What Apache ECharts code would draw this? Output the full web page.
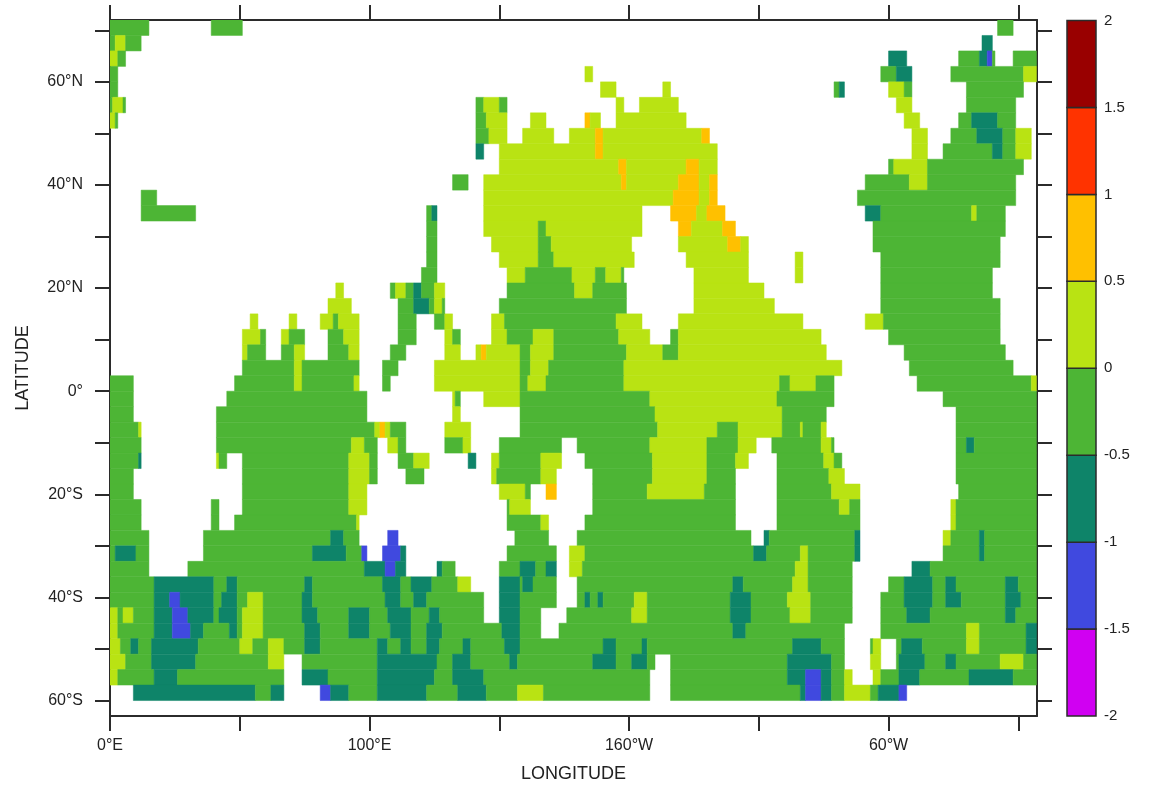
<!DOCTYPE html>
<html>
<head>
<meta charset="utf-8">
<style>html,body{margin:0;padding:0;background:#fff}#c{width:1150px;height:785px}</style>
<script src="https://cdn.jsdelivr.net/npm/echarts@6/dist/echarts.min.js"></script>
</head>
<body>
<div id="c"></div>
<script>
// Colour classes: band midpoints of the field
const classValues = {B:-1.25, T:-0.75, G:-0.25, Y:0.25, O:0.75};
const levels = [-2,-1.5,-1,-0.5,0,0.5,1,1.5,2];
const bandColors = ['#d000f2','#4049df','#0e8469','#4db535','#b9e313','#ffc000','#ff3300','#990000'];
const lonTicks = [0,50,100,150,200,250,300,350];
const lonLabels = {0:'0°E',100:'100°E',200:'160°W',300:'60°W'};
const latTicks = [-60,-50,-40,-30,-20,-10,0,10,20,30,40,50,60,70];
const latLabels = {60:'60°N',40:'40°N',20:'20°N',0:'0°','-20':'20°S','-40':'40°S','-60':'60°S'};
// One entry per 3-degree latitude row, from 72N southwards: lonStart-lonEnd + class
const rows = [
"0-15G 39-51G 342-348G",
"0-2G 2-6Y 6-12G 336-340T",
"0-3Y 3-6G 300-307T 327-335G 335-338T 338-340B 340-341G 348-357G",
"0-3G 183-186Y 297-303G 303-309T 324-352G 352-357Y",
"0-3G 189-195Y 213-216Y 279-281G 281-283T 300-306Y 306-309G 330-352G",
"0-1G 1-5Y 5-6G 141-144G 144-150Y 150-153G 195-198Y 204-219Y 303-309Y 330-349G",
"0-2Y 2-3G 141-145G 145-153Y 162-168Y 183-185O 185-189Y 195-222Y 306-312Y 327-332G 332-342T 342-349G",
"141-146G 146-153Y 159-171Y 177-187Y 187-190O 190-228Y 228-231O 309-315Y 324-334G 334-344T 344-349G 349-355Y",
"141-144T 150-187Y 187-190O 190-234Y 309-315Y 321-340G 340-344T 344-349G 349-355Y",
"150-196Y 196-199O 199-222Y 222-227O 227-234Y 300-302G 302-315Y 315-352G",
"132-138G 144-197Y 197-199O 199-219Y 219-227O 227-231Y 231-234O 291-308G 308-315Y 315-349G",
"12-18G 144-217Y 217-227O 227-231Y 231-234O 288-349G",
"12-33G 122-124G 124-126T 144-205Y 216-226O 226-230Y 230-237O 291-297T 297-332G 332-334Y 334-345G",
"122-126G 144-165Y 165-168G 168-205Y 219-224O 224-236Y 236-241O 294-345G",
"122-126G 147-165Y 165-170G 170-201Y 219-238Y 238-243O 243-246Y 294-343G",
"122-126G 150-165Y 165-171G 171-202Y 222-246Y 264-267Y 297-343G",
"120-126G 153-160Y 160-178G 178-187Y 187-191G 191-197Y 197-198G 225-246Y 264-267Y 297-340G",
"87-90Y 108-110G 110-114Y 114-117G 117-120T 120-125G 125-129Y 153-179G 179-186Y 186-199G 225-252Y 297-340G",
"84-93Y 111-117G 117-123T 123-125G 125-128Y 128-129G 150-199G 225-256Y 297-343G",
"54-57Y 69-72Y 81-86Y 86-88G 88-96Y 111-118G 125-129G 129-132Y 147-152Y 152-195G 195-205Y 219-267Y 291-298Y 298-343G",
"51-58Y 58-60G 66-69Y 69-75G 84-90G 90-96Y 111-118G 129-132Y 132-135G 147-153Y 153-163G 163-171Y 171-196G 196-208Y 216-219G 219-274Y 300-343G",
"51-53Y 53-60G 66-71G 71-75Y 84-92G 92-96Y 108-114G 129-135Y 141-143Y 143-145O 145-158Y 158-162G 162-171Y 171-199G 199-213Y 213-219G 219-276Y 306-345G",
"51-71G 71-74Y 74-96G 105-111G 125-158Y 158-162G 162-169Y 169-198G 198-282Y 308-348G",
"0-9G 48-71G 71-74Y 74-94G 94-96Y 105-108G 125-158Y 158-161G 161-168Y 168-198G 198-258Y 258-262G 262-272Y 272-279G 311-355G 355-357Y",
"0-9G 45-99G 132-133Y 133-135G 144-158Y 158-208G 208-257Y 257-279G 321-357G",
"0-9G 41-99G 132-135Y 158-210G 210-259Y 259-276G 326-357G",
"0-11G 11-12Y 41-102G 102-104Y 104-106O 106-108Y 108-114G 129-139Y 158-211G 211-234Y 234-242G 242-259Y 259-266G 266-267Y 267-274G 274-276Y 326-357G",
"0-12G 41-93G 93-98Y 98-103G 107-111Y 111-114G 129-136G 136-139Y 150-174G 180-208G 208-230Y 230-242G 242-249Y 255-274G 274-278Y 278-279G 326-330G 330-333T 333-357G",
"0-11G 11-12T 41-42Y 42-45G 51-92G 92-100Y 100-103G 111-117G 117-123Y 138-141T 147-150Y 150-166G 166-174Y 183-209G 209-230Y 230-241G 241-246Y 257-275G 275-279Y 279-282G 326-357G",
"0-9G 51-92G 92-100Y 100-103G 114-121G 147-149Y 149-166G 166-172Y 186-209G 209-230Y 230-241G 257-277G 277-283Y 326-357G",
"0-9G 51-92G 92-99Y 150-160Y 160-162G 168-172O 186-207G 207-229Y 229-241G 257-278G 278-289Y 327-357G",
"0-12G 39-42G 51-92G 92-99Y 153-154G 154-162Y 186-241G 257-281G 281-285Y 285-289G 324-326Y 326-357G",
"0-12G 39-42G 48-95G 95-96Y 153-166G 166-169Y 183-241G 257-289G 324-326Y 326-357G",
"0-15G 36-85G 85-90T 90-96G 107-111B 156-169G 180-247G 252-254T 254-287G 287-289T 321-324Y 324-335G 335-337T 337-357G",
"0-2G 2-10T 10-15G 36-78G 78-91T 91-97G 97-99B 105-112B 112-114T 153-172G 177-183Y 183-248G 248-253T 253-266G 266-269Y 269-287G 287-289T 321-335G 335-337T 337-357G",
"0-15G 30-98G 98-106T 106-110B 110-114T 126-128T 128-133G 150-158G 158-164T 164-168G 168-172T 177-182Y 182-264G 264-269Y 269-286G 309-316T 316-357G",
"0-17G 17-40T 40-45G 45-49T 49-75G 75-78T 78-105G 105-112T 112-116G 116-124T 124-134G 134-139Y 150-158T 158-159G 159-163T 163-172G 180-240G 240-244T 244-263G 263-269Y 269-286G 300-306G 306-317T 317-322G 322-326T 326-345G 345-350T 350-357G",
"0-17G 17-23T 23-27B 27-40T 40-43G 43-49T 49-53G 53-59Y 59-74G 74-78T 78-106G 106-112T 112-117G 117-122T 122-144G 150-158T 158-172G 180-183G 183-185T 185-188G 188-190T 190-202G 202-207Y 207-239G 239-247T 247-261G 261-270Y 270-286G 297-306G 306-317T 317-322G 322-328T 328-345G 345-351T 351-357G",
"0-3Y 3-5G 5-9Y 9-17G 17-24T 24-30B 30-40T 40-42G 42-49T 49-51G 51-59Y 59-74G 74-80T 80-92G 92-100T 100-107G 107-116T 116-123G 123-127T 127-144G 150-158T 158-166G 176-201G 201-207Y 207-239G 239-247T 247-262G 262-270Y 270-286G 297-307G 307-316T 316-345G 345-349T 349-357G",
"0-3Y 3-17G 17-24T 24-31B 31-36T 36-46G 46-49T 49-51G 51-59Y 59-75G 75-81T 81-92G 92-100T 100-108G 108-116T 116-122G 122-128T 128-151G 151-158T 158-166G 173-240G 240-245T 245-283G 297-330G 330-335Y 335-353G 353-357T",
"0-4Y 4-8G 8-11T 11-16G 16-34T 34-50G 50-55Y 55-61G 61-67Y 67-75G 75-81T 81-103G 103-107T 107-112G 112-116T 116-122G 122-127T 127-136G 136-139T 139-152G 152-158T 158-190G 190-195T 195-205G 205-207T 207-263G 263-274T 274-283G 293-294G 294-297Y 303-305G 305-313T 313-330G 330-335Y 335-353G 353-357T",
"0-6Y 6-16G 16-33T 33-61G 61-67Y 74-103G 103-126T 126-132G 132-139T 139-154G 154-157T 157-186G 186-195T 195-201G 201-207T 207-210G 216-261G 261-278T 278-283G 293-297Y 303-304G 304-314T 314-322G 322-326T 326-343G 343-352Y 352-357G",
"0-3Y 3-17G 17-26T 26-67G 74-84T 84-103G 103-125T 125-132G 132-144T 144-208G 216-261G 261-268T 268-274B 274-278T 278-283G 283-286Y 294-297Y 297-304G 304-312T 312-331G 331-348T 348-357G",
"9-56T 56-62G 62-67T 81-85B 85-92T 92-103G 103-122T 122-134G 134-145T 145-157G 157-167Y 167-208G 216-266G 266-268T 268-274B 274-278T 278-283G 283-293Y 293-296G 296-304T 304-307B"
];

const cells = [];
rows.forEach((row, i) => {
  const top = 72 - 3 * i;
  row.split(' ').forEach(run => {
    const m = run.match(/(\d+)-(\d+)([A-Z])/);
    cells.push([+m[1], +m[2], top - 3, top, classValues[m[3]]]);
  });
});
const barCells = bandColors.map((c, i) => [0, 1, levels[i], levels[i + 1], (levels[i] + levels[i + 1]) / 2]);
function colorOf(v) {
  for (let i = 0; i < bandColors.length; i++) if (v >= levels[i] && v < levels[i + 1]) return bandColors[i];
  return '#fff';
}
function cellItem(stroke, lw) {
  return function (params, api) {
    const a = api.coord([api.value(0), api.value(3)]);
    const b = api.coord([api.value(1), api.value(2)]);
    const fill = colorOf(api.value(4));
    return {type: 'rect', shape: {x: a[0], y: a[1], width: b[0] - a[0], height: b[1] - a[1]},
      style: {fill: fill, stroke: stroke || fill, lineWidth: lw}};
  };
}
const ink = '#2b2b2b';
const font = 'Liberation Sans';
const line = {show: true, onZero: false, lineStyle: {color: ink, width: 2}};
const tick = vals => ({show: true, length: 15, inside: false, customValues: vals, lineStyle: {color: ink, width: 2}});
const chart = echarts.init(document.getElementById('c'), null, {renderer: 'canvas'});
chart.setOption({
  animation: false,
  backgroundColor: '#fff',
  grid: [
    {left: 110, top: 20, width: 927, height: 696, outerBoundsMode: 'none'},
    {left: 1067, top: 20.5, width: 29, height: 695.5, outerBoundsMode: 'none'}
  ],
  xAxis: [
    {type: 'value', gridIndex: 0, min: 0, max: 357.2, position: 'bottom', splitLine: {show: false},
     axisLine: line, axisTick: tick(lonTicks),
     axisLabel: {customValues: Object.keys(lonLabels).map(Number), margin: 22, fontFamily: font, fontSize: 16, color: '#222',
       formatter: v => lonLabels[v]},
     name: 'LONGITUDE', nameLocation: 'middle', nameGap: 49, nameTextStyle: {fontFamily: font, fontSize: 18, color: '#222'}},
    {type: 'value', gridIndex: 0, min: 0, max: 357.2, position: 'top', splitLine: {show: false},
     axisLine: line, axisTick: tick(lonTicks), axisLabel: {show: false}},
    {type: 'value', gridIndex: 1, min: 0, max: 1, show: false}
  ],
  yAxis: [
    {type: 'value', gridIndex: 0, min: -63, max: 72, position: 'left', splitLine: {show: false},
     axisLine: line, axisTick: tick(latTicks),
     axisLabel: {customValues: Object.keys(latLabels).map(Number), margin: 27, fontFamily: font, fontSize: 16, color: '#222',
       formatter: v => latLabels[v]},
     name: 'LATITUDE', nameLocation: 'middle', nameGap: 78, nameRotate: 90, nameTextStyle: {fontFamily: font, fontSize: 18, color: '#222'}},
    {type: 'value', gridIndex: 0, min: -63, max: 72, position: 'right', splitLine: {show: false},
     axisLine: line, axisTick: tick(latTicks), axisLabel: {show: false}},
    {type: 'value', gridIndex: 1, min: -2, max: 2, interval: 0.5, position: 'right', splitLine: {show: false},
     axisLine: {show: false}, axisTick: {show: false},
     axisLabel: {show: true, margin: 8, fontFamily: font, fontSize: 15, color: '#222', formatter: v => String(v)}}
  ],
  series: [
    {type: 'custom', xAxisIndex: 0, yAxisIndex: 0, data: cells, renderItem: cellItem(null, 0.5),
     encode: {x: [0, 1], y: [2, 3]}, clip: true, silent: true},
    {type: 'custom', xAxisIndex: 2, yAxisIndex: 2, data: barCells, renderItem: cellItem(ink, 1.5),
     encode: {x: [0, 1], y: [2, 3]}, clip: false, silent: true}
  ]
});
</script>
</body>
</html>
